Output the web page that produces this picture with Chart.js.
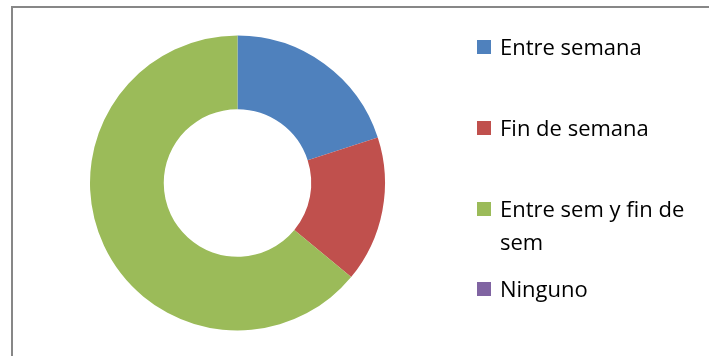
<!DOCTYPE html>
<html>
<head>
<meta charset="utf-8">
<script src="https://cdn.jsdelivr.net/npm/chart.js@4/dist/chart.umd.min.js"></script>
<style>
  html, body { margin: 0; padding: 0; background: #fff; }
  #frame {
    position: absolute; left: 11px; top: 6px; width: 720px; height: 380px;
    border-left: 2px solid #878787; border-top: 2px solid #878787;
  }
  #wrap { position: absolute; left: 0; top: 0; width: 709px; height: 356px; overflow: hidden; }
  #box { position: absolute; left: 0; top: 0; width: 709px; height: 356px; }
  #legend {
    position: absolute; left: 477px; top: 30px; width: 232px; margin: 0; padding: 0;
    list-style: none; font-family: "Open Sans", sans-serif; font-size: 22px; color: #000;
  }
  #legend li { display: flex; align-items: flex-start; line-height: 33px; margin-bottom: 48px; }
  #legend li:nth-child(3) { margin-bottom: 14px; }
  #legend .sw { flex: none; width: 14px; height: 14px; margin-top: 9.5px; margin-right: 9px; }
  #legend .tx { width: 205px; }
</style>
</head>
<body>
<div id="wrap">
  <div id="frame"></div>
  <div id="box"><canvas id="c"></canvas></div>
  <ul id="legend"></ul>
</div>
<script>
// values (share of 25 answers)
const categories = ['Entre semana', 'Fin de semana', 'Entre sem y fin de sem', 'Ninguno']
const counts = [5, 4, 16, 0]
const colors = ['#4F81BD', '#C0504D', '#9BBB59', '#8064A2']

const chart = new Chart(document.getElementById('c'), {
  type: 'doughnut',
  data: {
    labels: categories,
    datasets: [{ data: counts, backgroundColor: colors, borderWidth: 0 }],
  },
  options: {
    responsive: true,
    maintainAspectRatio: false,
    animation: false,
    cutout: '50%',
    layout: { padding: { left: 90, right: 324, top: 35, bottom: 25 } },
    plugins: { legend: { display: false }, tooltip: { enabled: false } },
  },
})

// legend drawn as html, Excel style (right side, wrapped labels)
const ul = document.getElementById('legend')
chart.data.labels.forEach((label, i) => {
  const li = document.createElement('li')
  li.innerHTML = `<span class="sw" style="background:${colors[i]}"></span><span class="tx">${label}</span>`
  ul.appendChild(li)
})
</script>
</body>
</html>
